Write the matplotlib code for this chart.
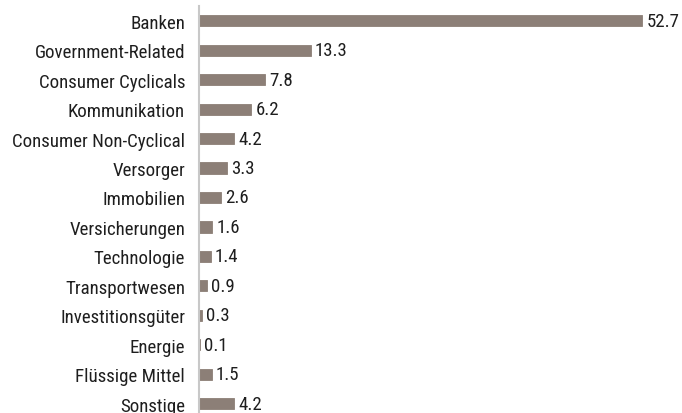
import matplotlib
matplotlib.use("Agg")
import matplotlib.pyplot as plt
from matplotlib import font_manager

categories = ["Banken", "Government-Related", "Consumer Cyclicals", "Kommunikation",
              "Consumer Non-Cyclical", "Versorger", "Immobilien", "Versicherungen",
              "Technologie", "Transportwesen", "Investitionsgüter", "Energie",
              "Flüssige Mittel", "Sonstige"]
values = [52.7, 13.3, 7.8, 6.2, 4.2, 3.3, 2.6, 1.6, 1.4, 0.9, 0.3, 0.1, 1.5, 4.2]

names = {f.name for f in font_manager.fontManager.ttflist}
fam = "DejaVu Sans"
for cand in ["Roboto Condensed", "Archivo Narrow", "PT Sans Narrow", "Liberation Sans Narrow",
             "Asap Condensed", "Barlow Semi Condensed"]:
    if cand in names:
        fam = cand
        break
plt.rcParams["font.family"] = [fam, "DejaVu Sans"]

W, H = 682, 414
fig = plt.figure(figsize=(W / 100, H / 100), dpi=100)
left_px, top_px, row_px = 199, 7, 29.46
n = len(categories)
ax_h = n * row_px
ax = fig.add_axes([left_px / W, (H - top_px - ax_h) / H, (W - left_px) / W, ax_h / H])

bar_color = "#8c7f77"
text_color = "#1e1e1e"
fsize = 13.6
y = list(range(n))
ax.barh(y, values, height=0.38, color=bar_color, edgecolor=bar_color, linewidth=0.6)
ax.set_ylim(n - 0.5, -0.5)
ax.set_xlim(0, (W - left_px) / 8.41)

for yi, v in zip(y, values):
    ax.annotate(f"{v:.1f}", (v, yi), xytext=(3, 0), textcoords="offset points",
                va="center", ha="left", fontsize=fsize, color=text_color)

ax.set_yticks(y)
ax.set_yticklabels(categories, fontsize=fsize, color=text_color)
ax.tick_params(axis="y", length=0, pad=10)
ax.set_xticks([])
for s in ["top", "right", "bottom"]:
    ax.spines[s].set_visible(False)
ax.spines["left"].set_color("#c8c8c8")
ax.spines["left"].set_linewidth(1.5)

fig.savefig("out.png", dpi=100)
